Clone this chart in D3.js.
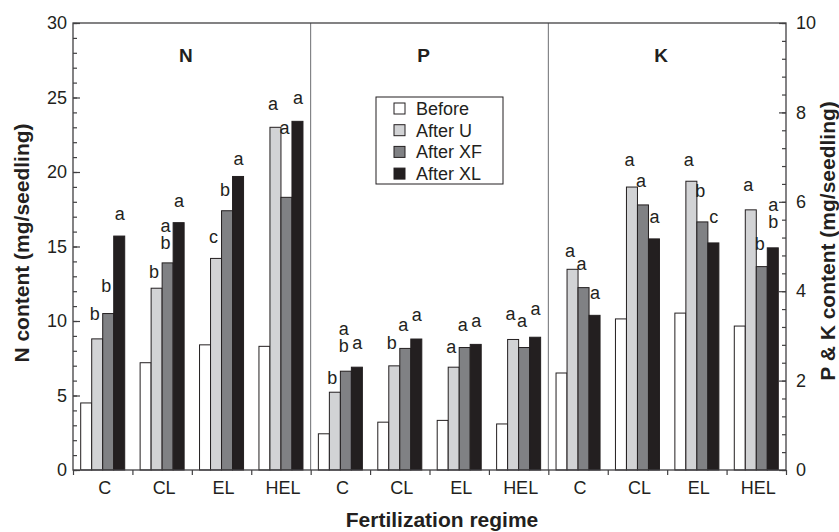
<!doctype html>
<html>
    <head>
        <script src="https://cdn.jsdelivr.net/npm/d3@7"></script>
        <style>
            html, body {
                margin: 0;
                padding: 0;
                background: #fff;
            }

            #chart svg {
                display: block;
                font-family: "Liberation Sans", Arial, sans-serif;
            }
        </style>
    </head>
    <body>
        <div id="chart"></div>
        <script>
            var categories = ["C", "CL", "EL", "HEL"];
            var series = ["Before", "After U", "After XF", "After XL"];
            var panels = ["N", "P", "K"];

            // content per seedling (mg), one row per regime, one column per sampling
            var nValues = [
                [4.5, 8.8, 10.5, 15.7],
                [7.2, 12.2, 13.9, 16.6],
                [8.4, 14.2, 17.4, 19.7],
                [8.3, 23.0, 18.3, 23.4]
            ];
            var pValues = [
                [0.81, 1.74, 2.21, 2.30],
                [1.07, 2.33, 2.72, 2.93],
                [1.11, 2.30, 2.74, 2.81],
                [1.03, 2.92, 2.74, 2.97]
            ];
            var kValues = [
                [2.17, 4.49, 4.08, 3.46],
                [3.38, 6.33, 5.93, 5.17],
                [3.51, 6.46, 5.55, 5.08],
                [3.22, 5.82, 4.55, 4.97]
            ];

            // significance letters and the level (axis units) they sit at
            var nLetters = [["", "b", "b", "a"], ["", "b", "ab", "a"], ["", "c", "b", "a"], ["", "a", "a", "a"]];
            var nLetterLevel = [[0, 10.4, 12.3, 17.1], [0, 13.2, 15.2, 18.0], [0, 15.55, 18.7, 20.8], [0, 24.5, 22.9, 24.9]];
            var pLetters = [["", "b", "ab", "a"], ["", "b", "a", "a"], ["", "a", "a", "a"], ["", "a", "a", "a"]];
            var pLetterLevel = [[0, 2.03, 2.75, 2.81], [0, 2.81, 3.22, 3.45], [0, 2.74, 3.22, 3.31], [0, 3.46, 3.32, 3.58]];
            var kLetters = [["", "a", "a", "a"], ["", "a", "a", "a"], ["", "a", "b", "c"], ["", "a", "b", "ab"]];
            var kLetterLevel = [[0, 4.88, 4.59, 3.94], [0, 6.91, 6.45, 5.63], [0, 6.91, 6.23, 5.63], [0, 6.35, 5.03, 5.52]];

            var leftTicks = [0, 5, 10, 15, 20, 25, 30];
            var rightTicks = [0, 2, 4, 6, 8, 10];

            var colors = ["#ffffff", "#d2d3d5", "#808184", "#231f20"];
            var ink = "#231f20";
            // letters sit a touch left of the bar centre, except the last bar
            var letterShift = [0, -2.5, -2, 0.5];

            var W = 839, H = 532;
            var plotLeft = 73, plotRight = 786, plotTop = 23, plotBottom = 470;

            var svg = d3.select("#chart").append("svg")
                .attr("width", W)
                .attr("height", H);

            var yLeft = d3.scaleLinear().domain([0, 30]).range([plotBottom, plotTop]);
            var yRight = d3.scaleLinear().domain([0, 10]).range([plotBottom, plotTop]);

            var xPanel = d3.scaleBand().domain(panels).range([plotLeft, plotRight]);
            var xGroup = d3.scaleBand().domain(categories).range([0, xPanel.bandwidth()]);
            var xBar = d3.scaleBand().domain(series).range([0, xGroup.bandwidth()])
                .paddingInner(0).paddingOuter(0.7);

            var panelData = [
                { name: "N", values: nValues, letters: nLetters, levels: nLetterLevel, y: yLeft },
                { name: "P", values: pValues, letters: pLetters, levels: pLetterLevel, y: yRight },
                { name: "K", values: kValues, letters: kLetters, levels: kLetterLevel, y: yRight }
            ];

            // bars + letters
            panelData.forEach(function (p) {
                var g = svg.append("g")
                    .attr("transform", "translate(" + xPanel(p.name) + ",0)");

                categories.forEach(function (c, ci) {
                    var gg = g.append("g")
                        .attr("transform", "translate(" + xGroup(c) + ",0)");

                    gg.selectAll("rect")
                        .data(p.values[ci])
                        .enter()
                        .append("rect")
                            .attr("x", function (d, i) { return xBar(series[i]); })
                            .attr("y", function (d) { return p.y(d); })
                            .attr("width", xBar.bandwidth())
                            .attr("height", function (d) { return plotBottom - p.y(d); })
                            .attr("fill", function (d, i) { return colors[i]; })
                            .attr("stroke", ink)
                            .attr("stroke-width", 1);

                    p.letters[ci].forEach(function (txt, si) {
                        if (!txt) {
                            return;
                        }
                        var cx = xBar(series[si]) + xBar.bandwidth() / 2 + letterShift[si];
                        var base = p.y(p.levels[ci][si]) + 5;
                        // stacked letters: last char sits lowest
                        txt.split("").reverse().forEach(function (ch, k) {
                            gg.append("text")
                                .attr("x", cx)
                                .attr("y", base - k * 17)
                                .attr("text-anchor", "middle")
                                .attr("font-size", 18)
                                .attr("fill", ink)
                                .text(ch);
                        });
                    });
                });

                svg.append("text")
                    .attr("x", xPanel(p.name) + xPanel.bandwidth() / 2 - 6)
                    .attr("y", 62)
                    .attr("text-anchor", "middle")
                    .attr("font-size", 19)
                    .attr("font-weight", "bold")
                    .attr("fill", ink)
                    .text(p.name);
            });

            // panel dividers
            svg.selectAll("line.divider")
                .data(panels.slice(1))
                .enter()
                .append("line")
                    .attr("class", "divider")
                    .attr("x1", function (d) { return xPanel(d); })
                    .attr("x2", function (d) { return xPanel(d); })
                    .attr("y1", plotTop)
                    .attr("y2", plotBottom)
                    .attr("stroke", "#6d6e71")
                    .attr("stroke-width", 1);

            // frame
            svg.append("rect")
                .attr("x", plotLeft)
                .attr("y", plotTop)
                .attr("width", plotRight - plotLeft)
                .attr("height", plotBottom - plotTop)
                .attr("fill", "none")
                .attr("stroke", "#414042")
                .attr("stroke-width", 1.3);

            // left axis
            svg.append("g")
                .attr("transform", "translate(" + plotLeft + ",0)")
                .call(d3.axisLeft(yLeft).tickValues(d3.range(0, 31, 1)).tickSize(-4).tickFormat(""))
                .call(function (a) { a.select(".domain").remove(); });
            svg.append("g")
                .attr("transform", "translate(" + plotLeft + ",0)")
                .call(d3.axisLeft(yLeft).tickValues(leftTicks).tickSize(-7).tickPadding(6))
                .call(function (a) { a.select(".domain").remove(); });

            // right axis
            svg.append("g")
                .attr("transform", "translate(" + plotRight + ",0)")
                .call(d3.axisRight(yRight).tickValues(d3.range(0, 10.01, 0.4)).tickSize(-4).tickFormat(""))
                .call(function (a) { a.select(".domain").remove(); });
            svg.append("g")
                .attr("transform", "translate(" + plotRight + ",0)")
                .call(d3.axisRight(yRight).tickValues(rightTicks).tickSize(-7).tickPadding(10))
                .call(function (a) { a.select(".domain").remove(); });

            // bottom: boundary ticks and category labels
            var xEdges = d3.scaleLinear().domain([0, 12]).range([plotLeft, plotRight]);
            svg.append("g")
                .attr("transform", "translate(0," + plotBottom + ")")
                .call(d3.axisBottom(xEdges).tickValues(d3.range(0, 13)).tickSize(5).tickFormat(""))
                .call(function (a) { a.select(".domain").remove(); });

            var xKeys = [];
            panels.forEach(function (p) {
                categories.forEach(function (c) { xKeys.push(p + "|" + c); });
            });
            var xAll = d3.scaleBand().domain(xKeys).range([plotLeft, plotRight]);
            svg.append("g")
                .attr("transform", "translate(2," + plotBottom + ")")
                .call(d3.axisBottom(xAll).tickSize(0).tickPadding(11)
                    .tickFormat(function (d) { return d.split("|")[1]; }))
                .call(function (a) { a.select(".domain").remove(); });

            svg.selectAll(".tick line").attr("stroke", "#414042").attr("stroke-width", 1.2);
            svg.selectAll(".tick text")
                .attr("font-size", 18)
                .attr("font-family", "Liberation Sans, Arial, sans-serif")
                .attr("fill", ink);

            // axis titles
            svg.append("text")
                .attr("transform", "translate(21," + 243 + ") rotate(-90)")
                .attr("text-anchor", "middle")
                .attr("dominant-baseline", "central")
                .attr("font-size", 21)
                .attr("font-weight", "bold")
                .attr("fill", ink)
                .text("N content (mg/seedling)");

            svg.append("text")
                .attr("transform", "translate(827," + 241 + ") rotate(-90)")
                .attr("text-anchor", "middle")
                .attr("dominant-baseline", "central")
                .attr("font-size", 21)
                .attr("font-weight", "bold")
                .attr("fill", ink)
                .text("P & K content (mg/seedling)");

            svg.append("text")
                .attr("x", 442)
                .attr("y", 527)
                .attr("text-anchor", "middle")
                .attr("font-size", 21)
                .attr("font-weight", "bold")
                .attr("fill", ink)
                .text("Fertilization regime");

            // legend
            var legend = svg.append("g").attr("transform", "translate(376,97)");
            legend.append("rect")
                .attr("width", 127)
                .attr("height", 87)
                .attr("fill", "#fff")
                .attr("stroke", ink)
                .attr("stroke-width", 1);

            var rows = legend.selectAll("g.row")
                .data(series)
                .enter()
                .append("g")
                    .attr("class", "row")
                    .attr("transform", function (d, i) {
                        return "translate(18," + (11.5 + i * 21.7) + ")";
                    });
            rows.append("rect")
                .attr("y", -5.5)
                .attr("width", 11)
                .attr("height", 11)
                .attr("fill", function (d, i) { return colors[i]; })
                .attr("stroke", ink)
                .attr("stroke-width", 1);
            rows.append("text")
                .attr("x", 22)
                .attr("y", 6.5)
                .attr("font-size", 18)
                .attr("fill", ink)
                .text(function (d) { return d; });
        </script>
    </body>
</html>
